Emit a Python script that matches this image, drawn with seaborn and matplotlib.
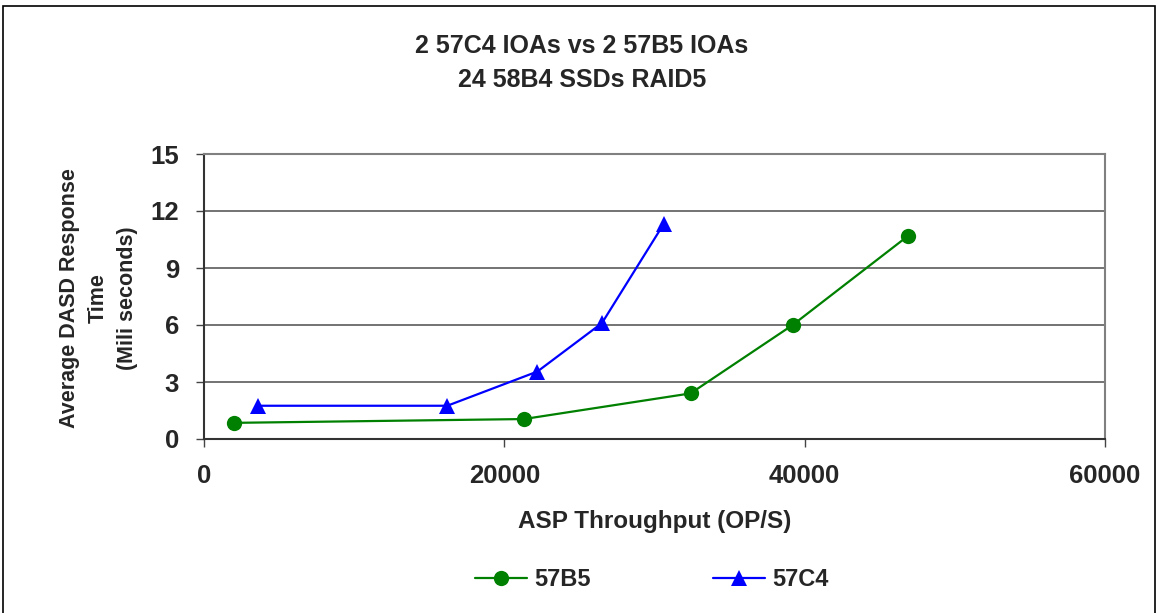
import matplotlib
matplotlib.use("Agg")
import matplotlib.pyplot as plt
import seaborn as sns
import pandas as pd
from matplotlib.patches import Rectangle

# Data
series_names = ["57B5", "57C4"]
x_57b5 = [2000, 21300, 32400, 39200, 46900]
y_57b5 = [0.85, 1.05, 2.4, 6.0, 10.7]
x_57c4 = [3600, 16200, 22200, 26500, 30600]
y_57c4 = [1.75, 1.75, 3.55, 6.1, 11.3]
x_ticks = [0, 20000, 40000, 60000]
y_ticks = [0, 3, 6, 9, 12, 15]
title_lines = ["2 57C4 IOAs vs 2 57B5 IOAs", "24 58B4 SSDs RAID5"]
x_label = "ASP Throughput (OP/S)"
y_label = "Average DASD Response\nTime\n(Mili seconds)"

df = pd.concat([
    pd.DataFrame({"x": x_57b5, "y": y_57b5, "series": series_names[0]}),
    pd.DataFrame({"x": x_57c4, "y": y_57c4, "series": series_names[1]}),
], ignore_index=True)

sns.set_style("white")
plt.rcParams['font.family'] = ['Liberation Sans', 'DejaVu Sans']
plt.rcParams['font.weight'] = 'bold'

fig = plt.figure(figsize=(11.61, 6.13), dpi=100)
ax = fig.add_axes([204/1161, 1-439/613, (1105-204)/1161, (439-154)/613])

palette = {"57B5": "#008000", "57C4": "#0000FF"}
markers = {"57B5": "o", "57C4": "^"}
sns.lineplot(data=df, x="x", y="y", hue="series", style="series",
             palette=palette, markers=markers, dashes=False, sort=False,
             markersize=11, linewidth=1.6, markeredgewidth=0, ax=ax)

ax.set_xlim(0, 60000)
ax.set_ylim(0, 15)
ax.set_xticks(x_ticks)
ax.set_xticklabels([str(v) for v in x_ticks])
ax.set_yticks(y_ticks)
ax.set_yticklabels([str(v) for v in y_ticks])
ax.tick_params(axis='x', labelsize=18.5, pad=12, length=6, width=1, color="#444444", direction='out', bottom=True)
ax.tick_params(axis='y', labelsize=18.5, pad=12, length=6, width=1, color="#444444", direction='out', left=True)
for lab in ax.get_xticklabels() + ax.get_yticklabels():
    lab.set_fontweight('bold')

ax.yaxis.grid(True, color="#4d4d4d", linewidth=1.1)
ax.xaxis.grid(False)
ax.set_axisbelow(True)
for side in ["left", "bottom"]:
    ax.spines[side].set_color("#333333")
    ax.spines[side].set_linewidth(1.5)
for side in ["top", "right"]:
    ax.spines[side].set_color("#808080")
    ax.spines[side].set_linewidth(1.5)

ax.set_xlabel(x_label, fontsize=17.5, fontweight='bold', labelpad=16)
ax.set_ylabel("")
fig.text(98/1161, 1-298/613, y_label, rotation=90, ha='center', va='center',
         fontsize=15.5, fontweight='bold', linespacing=1.5, multialignment='center')

fig.text(582/1161, 1-46/613, title_lines[0], ha='center', va='center', fontsize=18, fontweight='bold')
fig.text(582/1161, 1-80/613, title_lines[1], ha='center', va='center', fontsize=18, fontweight='bold')

handles, labels = ax.get_legend_handles_labels()
ax.get_legend().remove()
fig.legend(handles, labels, loc='center', bbox_to_anchor=(652/1161, 1-580/613), ncol=2,
           frameon=False, prop={'size': 17, 'weight': 'bold'}, columnspacing=5.2,
           handlelength=2.2, handletextpad=0.3)

fig.add_artist(Rectangle((3/1161, -0.05), (1155-3)/1161, 0.05 + 1-6/613,
                         transform=fig.transFigure, fill=False, edgecolor="#000000", linewidth=1.2))

fig.savefig("out.png", dpi=100)
